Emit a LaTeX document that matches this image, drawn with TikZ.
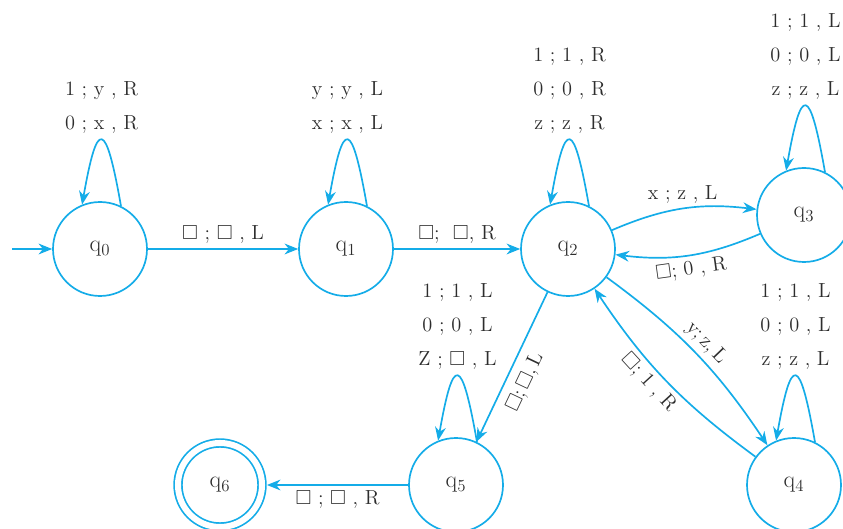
\documentclass[tikz,border=0pt]{standalone}
\usepackage{amssymb}
\usepackage{xcolor}
\usetikzlibrary{arrows.meta}

\definecolor{tmblue}{RGB}{20,172,232}
\definecolor{tmtext}{RGB}{45,45,45}
\newcommand{\blank}{$\square$}

\begin{document}
\begin{tikzpicture}[
  line width=1.2pt,
  font=\fontsize{14.5}{24}\selectfont,
  text=tmtext,
  state/.style={circle, draw=tmblue, minimum size=2.35cm, inner sep=0pt,
    font=\fontsize{17}{20}\selectfont},
  accept/.style={state, double=white, double distance=4.3pt, minimum size=2.1cm, outer sep=3.5pt},
  trans/.style={draw=tmblue, -{Stealth[length=3.4mm,width=2.7mm]}},
  looplbl/.style={pos=0.5, above=1pt, align=center}
]
\useasboundingbox (0,0) rectangle (21.075,13.225);

% States
\node[state] (q0) at (2.5,7) {q$_0$};
\node[state] (q1) at (8.65,7) {q$_1$};
\node[state] (q2) at (14.2,7) {q$_2$};
\node[state] (q3) at (20.1,7.85) {q$_3$};
\node[state] (q4) at (19.85,1.1) {q$_4$};
\node[state] (q5) at (11.4,1.1) {q$_5$};
\node[accept] (q6) at (5.5,1.1) {q$_6$};

\coordinate (start) at (0.3,7);

% Self loops
\draw[trans] (q0.64) .. controls +(100:2.2) and +(80:2.2) .. (q0.112)
  node[looplbl] {1 ; y , R\\0 ; x , R};
\draw[trans] (q1.64) .. controls +(100:2.2) and +(80:2.2) .. (q1.112)
  node[looplbl] {y ; y , L\\x ; x , L};
\draw[trans] (q2.64) .. controls +(100:2.2) and +(80:2.2) .. (q2.112)
  node[looplbl] {1 ; 1 , R\\0 ; 0 , R\\z ; z , R};
\draw[trans] (q3.64) .. controls +(100:2.2) and +(80:2.2) .. (q3.112)
  node[looplbl] {1 ; 1 , L\\0 ; 0 , L\\z ; z , L};
\draw[trans] (q4.64) .. controls +(100:2.2) and +(80:2.2) .. (q4.112)
  node[looplbl] {1 ; 1 , L\\0 ; 0 , L\\z ; z , L};
\draw[trans] (q5.64) .. controls +(100:2.2) and +(80:2.2) .. (q5.112)
  node[looplbl] {1 ; 1 , L\\0 ; 0 , L\\Z ; \blank{} , L};

% Transitions
\draw[trans] (start) -- (q0);
\draw[trans] (q0) -- node[above] {\blank{} ; \blank{} , L} (q1);
\draw[trans] (q1) -- node[above] {\blank;\ \ \blank, R} (q2);
\draw[trans] (q2) to[bend left=15] node[above] {x ; z , L} (q3);
\draw[trans] (q3) to[bend left=15] node[below, rotate=8] {\blank; 0 , R} (q2);
\draw[trans] (q2) to[bend left=10] node[sloped, above] {y;\,z,\,L} (q4);
\draw[trans] (q4) to[bend left=10] node[sloped, below, pos=0.55] {\blank; 1 , R} (q2);
\draw[trans] (q2) -- node[sloped, below=3pt, pos=0.55] {\blank;\,\blank,\,L} (q5);
\draw[trans] (q5) -- node[below] {\blank{} ; \blank{} , R} (q6);

\end{tikzpicture}
\end{document}
